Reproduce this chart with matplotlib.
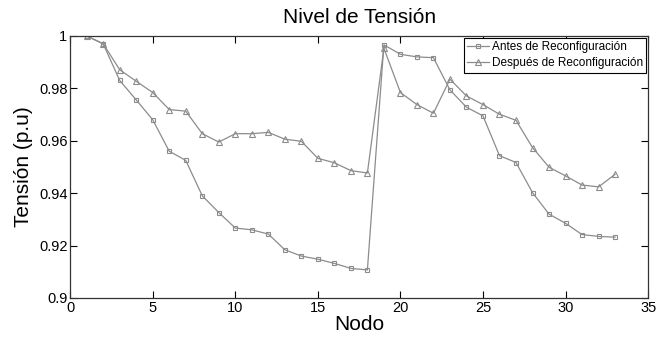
import numpy as np
import matplotlib
matplotlib.use('Agg')
from matplotlib import pyplot as plt

plt.rcParams['font.family'] = ['Liberation Sans', 'DejaVu Sans']

nodos = np.arange(1, 34)

antes = [1.0, 0.997, 0.983, 0.9756, 0.968, 0.956, 0.9525, 0.939, 0.9326, 0.9267,
         0.926, 0.9244, 0.9184, 0.916, 0.9148, 0.9132, 0.9113, 0.9107,
         0.9966, 0.993, 0.992, 0.9917, 0.9794, 0.9728, 0.9695, 0.9543, 0.9517,
         0.9402, 0.932, 0.9285, 0.9242, 0.9235, 0.9232]

despues = [1.0, 0.997, 0.9871, 0.9827, 0.9784, 0.9719, 0.9713, 0.9627, 0.9595, 0.9627,
           0.9627, 0.9632, 0.9606, 0.9598, 0.9533, 0.9516, 0.9486, 0.9477,
           0.9953, 0.9784, 0.9738, 0.9705, 0.9835, 0.9771, 0.9738, 0.9701, 0.9678,
           0.9574, 0.9499, 0.9466, 0.9431, 0.9424, 0.9472]

fig = plt.figure(figsize=(6.62, 3.39), dpi=100)
ax = fig.add_axes([0.106, 0.121, 0.873, 0.773])

gris = '#8c8c8c'
ax.plot(nodos, antes, color=gris, lw=0.9, marker='s', ms=3.5, mfc='none', mec=gris, mew=0.8,
        label='Antes de Reconfiguración')
ax.plot(nodos, despues, color=gris, lw=0.9, marker='^', ms=4, mfc='none', mec=gris, mew=0.8,
        label='Después de Reconfiguración')

ax.set_xlim(0, 35)
ax.set_ylim(0.9, 1.0)
ax.set_xticks(range(0, 36, 5))
ax.set_yticks([0.9, 0.92, 0.94, 0.96, 0.98, 1.0])
ax.set_yticklabels(['0.9', '0.92', '0.94', '0.96', '0.98', '1'])
ax.tick_params(direction='in', top=True, right=True, labelsize=10.5, length=5, width=0.8, pad=2)
for s in ax.spines.values():
    s.set_linewidth(0.9)
    s.set_color('#333333')

ax.set_title('Nivel de Tensión', fontsize=15, pad=9)
ax.set_xlabel('Nodo', fontsize=15, labelpad=0)
ax.set_ylabel('Tensión (p.u)', fontsize=15, labelpad=4)

leg = ax.legend(loc='upper right', fontsize=8.5, fancybox=False, edgecolor='black',
                handlelength=1.8, borderpad=0.3, labelspacing=0.35, handletextpad=0.25,
                borderaxespad=0.15, framealpha=1)
leg.get_frame().set_linewidth(0.8)

fig.savefig('out.png', dpi=100)
